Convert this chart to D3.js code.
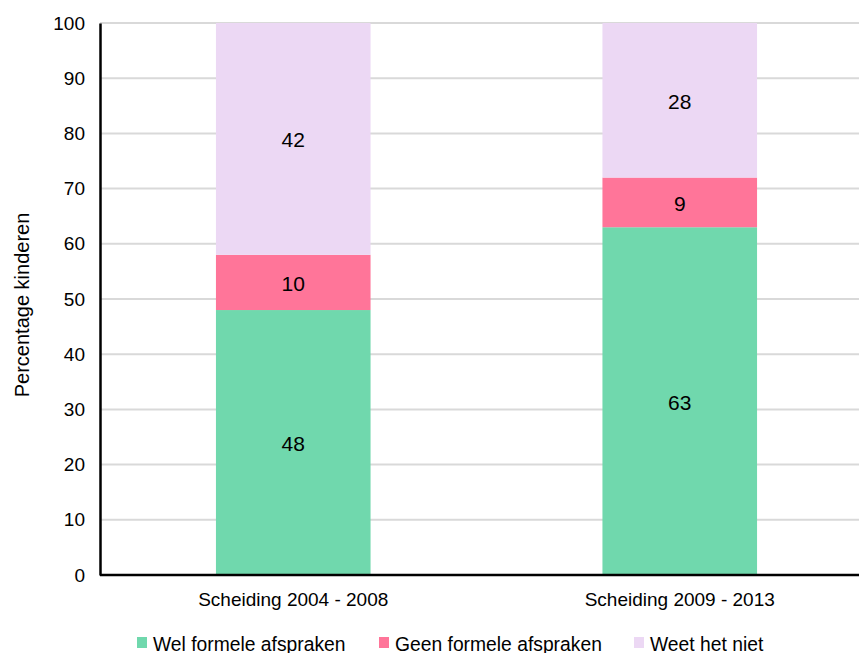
<!DOCTYPE html>
<html><head><meta charset="utf-8">
<script src="https://cdn.jsdelivr.net/npm/d3@7"></script>
<style>body{margin:0;background:#fff;}svg{display:block;font-family:"Liberation Sans",Arial,sans-serif;}</style>
</head><body>
<svg id="c" width="859" height="653"></svg>
<script>
const categories = ["Scheiding 2004 - 2008", "Scheiding 2009 - 2013"];
const seriesNames = ["Wel formele afspraken", "Geen formele afspraken", "Weet het niet"];
const welValues = [48, 63];
const geenValues = [10, 9];
const weetValues = [42, 28];
const yTicks = [0,10,20,30,40,50,60,70,80,90,100];
const colors = ["#70d8ad", "#ff7599", "#ecd8f4"];

const svg = d3.select("#c");
const x = d3.scaleBand().domain(categories).range([100, 873]).paddingInner(0.6).paddingOuter(0.3);
const y = d3.scaleLinear().domain([0,100]).range([575, 23]);

svg.append("g").selectAll("line").data(yTicks.filter(d=>d>0)).join("line")
  .attr("x1",100).attr("x2",859).attr("y1",d=>y(d)).attr("y2",d=>y(d))
  .attr("stroke","#d9d9d9").attr("stroke-width",2);

const rows = categories.map((c,i)=>({cat:c, "Wel formele afspraken":welValues[i], "Geen formele afspraken":geenValues[i], "Weet het niet":weetValues[i]}));
const stack = d3.stack().keys(seriesNames)(rows);

const bw = x.bandwidth();
stack.forEach((layer,li)=>{
  const g = svg.append("g");
  g.selectAll("rect").data(layer).join("rect")
    .attr("x",d=>x(d.data.cat)).attr("width",bw)
    .attr("y",d=>y(d[1])).attr("height",d=>y(d[0])-y(d[1]))
    .attr("fill",colors[li]);
  g.selectAll("text").data(layer).join("text")
    .attr("x",d=>x(d.data.cat)+bw/2).attr("y",d=>(y(d[0])+y(d[1]))/2+1)
    .attr("text-anchor","middle").attr("dominant-baseline","central")
    .attr("font-size",21).attr("fill","#000")
    .text(d=>d[1]-d[0]);
});

const yAxis = svg.append("g").attr("transform","translate(100,0)")
  .call(d3.axisLeft(y).tickValues(yTicks).tickSize(0).tickPadding(15));
yAxis.select(".domain").attr("stroke","#000").attr("stroke-width",2.5);
yAxis.selectAll("text").attr("font-size",19).attr("fill","#000").attr("font-family","Liberation Sans, Arial, sans-serif");

const xAxis = svg.append("g").attr("transform","translate(0,575)")
  .call(d3.axisBottom(x).tickSize(0).tickPadding(18));
xAxis.select(".domain").attr("d","M100,0H859").attr("stroke","#000").attr("stroke-width",2.5);
xAxis.selectAll("text").attr("font-size",19).attr("fill","#000").attr("font-family","Liberation Sans, Arial, sans-serif");

svg.append("text").attr("transform","translate(22,305) rotate(-90)")
  .attr("text-anchor","middle").attr("dominant-baseline","central").attr("font-size",20).attr("fill","#000")
  .text("Percentage kinderen");

const legX = [137, 379, 634];
const leg = svg.append("g");
seriesNames.forEach((n,i)=>{
  leg.append("rect").attr("x",legX[i]).attr("y",637).attr("width",10).attr("height",11).attr("fill",colors[i]);
  leg.append("text").attr("x",legX[i]+16).attr("y",644).attr("dominant-baseline","central")
    .attr("font-size",19.3).attr("fill","#000").text(n);
});
</script>
</body></html>
